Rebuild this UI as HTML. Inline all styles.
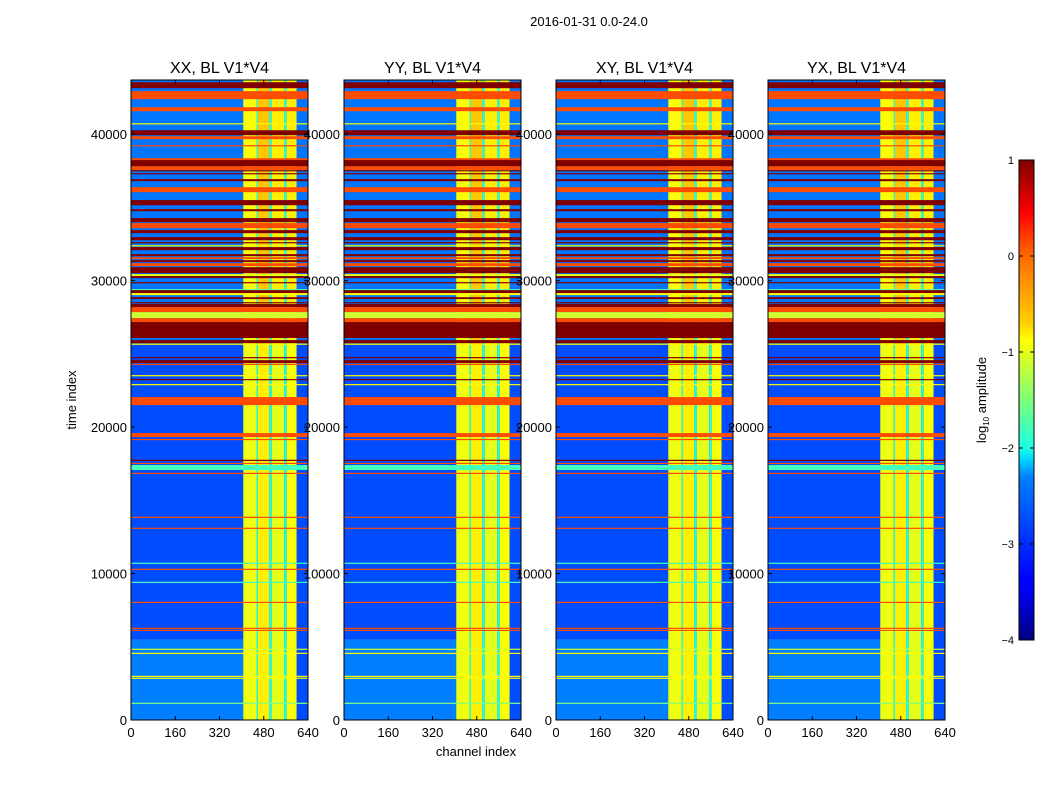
<!DOCTYPE html>
<html><head><meta charset="utf-8">
<style>
html,body{margin:0;padding:0;background:#fff;}
svg{display:block;font-family:"Liberation Sans",sans-serif;}
</style></head>
<body>
<svg id="chart" width="1050" height="800" viewBox="0 0 1050 800" xmlns="http://www.w3.org/2000/svg">
<defs>
<linearGradient id="jetGrad" x1="0" y1="1" x2="0" y2="0">
<stop offset="0" stop-color="#00007f"/><stop offset="0.11" stop-color="#0000ff"/><stop offset="0.125" stop-color="#0000ff"/>
<stop offset="0.34" stop-color="#0080ff"/><stop offset="0.375" stop-color="#00d4ff"/><stop offset="0.4" stop-color="#1affe6"/>
<stop offset="0.5" stop-color="#7dff7a"/><stop offset="0.625" stop-color="#ffff00"/><stop offset="0.66" stop-color="#ffd000"/>
<stop offset="0.8" stop-color="#ff6a00"/><stop offset="0.89" stop-color="#ff0000"/><stop offset="1" stop-color="#800000"/>
</linearGradient>
</defs>
<text x="589" y="26" font-size="13" text-anchor="middle">2016-01-31 0.0-24.0</text>
<text transform="translate(76,400) rotate(-90)" font-size="13" text-anchor="middle">time index</text>
<text x="476" y="756" font-size="13" text-anchor="middle">channel index</text>
<g id="panels"></g>
<g id="colorbar">
<rect x="1019" y="160" width="15" height="480" fill="url(#jetGrad)" stroke="#000" stroke-width="1"/>
<text transform="translate(986,400) rotate(-90)" font-size="13" text-anchor="middle">log<tspan font-size="8" dy="3">10</tspan><tspan dy="-3"> amplitude</tspan></text>
</g>
</svg>
<script>
// ---- data ----
const panelTitles = ["XX, BL V1*V4", "YY, BL V1*V4", "XY, BL V1*V4", "YX, BL V1*V4"];
const xTicks = [0, 160, 320, 480, 640];
const yTicks = [0, 10000, 20000, 30000, 40000];
const cbTicks = [1, 0, -1, -2, -3, -4];
const cbTickLabels = ["1", "0", "\u22121", "\u22122", "\u22123", "\u22124"];
// background segments: [t0, t1, log10 amplitude]
const bgSegments = [[0, 5500, -2.75], [5500, 25670, -3.0], [25670, 43700, -2.8]];
// column bands (lower region): [c0, c1, value]
const bandsLower = [[406, 454, -0.95], [454, 459, -2.0], [459, 500, -0.8], [500, 509, -2.0], [509, 554, -1.0], [554, 563, -2.0], [563, 599, -0.9], [599, 640, -3.0]];
// column bands (upper region)
const bandsUpper = [[406, 454, -0.9], [454, 459, -1.9], [459, 500, -0.6], [500, 509, -1.9], [509, 554, -0.8], [554, 563, -1.9], [563, 599, -0.8], [599, 640, -2.8]];
const bandSplit = 25670;
// full-width horizontal stripes: [t0, t1, value]
const stripes = [[43140,43550,1],[42390,42940,0],[41570,41840,0],[40680,40750,-0.85],[39930,40270,1],[39660,39860,0],[39200,39250,0],[38160,38360,0],[37810,38230,1],[37560,37810,0],[37480,37540,1],[37270,37340,1],[36790,36930,1],[36040,36380,0],[35150,35500,1],[34740,34880,1],[33990,34270,1],[33580,33930,0],[33240,33450,1],[32760,32970,1],[32560,32630,1],[32390,32420,-0.85],[32080,32290,1],[31670,31810,1],[31470,31600,0],[31260,31400,1],[30990,31190,0],[30510,30920,1],[30310,30450,-1.0],[30170,30310,1],[29830,29900,1],[29350,29420,-1.7],[29150,29350,1],[29010,29150,-0.85],[28740,28870,1],[28460,28530,1],[28190,28400,1],[27850,28190,0],[27440,27850,-1.1],[27170,27440,0],[26080,27170,1],[25730,25940,1],[25650,25700,-0.85],[24710,24780,1],[24370,24570,1],[24280,24320,0],[23520,23550,-0.85],[23250,23280,1],[22910,22940,-0.85],[21500,22050,0],[19320,19590,0],[19150,19190,0],[17730,17770,1],[17520,17560,0],[17070,17410,-1.8],[16840,16880,0],[13840,13880,0],[13090,13130,0],[10700,10740,-1.8],[10290,10330,0],[9400,9440,-1.8],[8030,8070,0],[6260,6300,0],[6120,6160,0],[4830,4870,-1.1],[4550,4590,-0.85],[2980,3020,-0.85],[2850,2890,-0.85],[1140,1180,-1.5]];

// ---- layout ----
const panelX = [131, 344, 556, 768];
const PW = 177, PT = 80, PB = 720, TMAX = 43700, CMAX = 640;
const NS = "http://www.w3.org/2000/svg";
function jet(v) {
  const t = Math.max(0, Math.min(1, (v + 4) / 5));
  const c = x => Math.round(255 * Math.max(0, Math.min(1, x)));
  return `rgb(${c(1.5 - Math.abs(4 * t - 3))},${c(1.5 - Math.abs(4 * t - 2))},${c(1.5 - Math.abs(4 * t - 1))})`;
}
function mk(tag, attrs, parent) {
  const e = document.createElementNS(NS, tag);
  for (const k in attrs) e.setAttribute(k, attrs[k]);
  parent.appendChild(e); return e;
}
const panels = document.getElementById("panels");
panelX.forEach((x0, pi) => {
  const sx = c => x0 + c / CMAX * PW;
  const sy = t => PB - t / TMAX * (PB - PT);
  const g = mk("g", {}, panels);
  
  
  bgSegments.forEach(s => {
    const r = mk("rect", { x: sx(0), y: sy(s[1]), width: PW, height: sy(s[0]) - sy(s[1]), fill: jet(s[2]) }, g);
    
    
  });
  [[0, bandSplit, bandsLower], [bandSplit, TMAX, bandsUpper]].forEach(([t0, t1, bands]) => {
    bands.forEach(b => {
      const r = mk("rect", { x: sx(b[0]), y: sy(t1), width: sx(b[1]) - sx(b[0]), height: sy(t0) - sy(t1), fill: jet(b[2]) }, g);
      
      
    });
  });
  stripes.forEach(s => {
    const h = Math.max(1.2, sy(s[0]) - sy(s[1]));
    const r = mk("rect", { x: sx(0), y: sy(s[1]), width: PW, height: h, fill: jet(s[2]) }, g);
    
    
  });
  const fr = mk("rect", { x: x0, y: PT, width: PW, height: PB - PT, fill: "none", stroke: "#000", "stroke-width": 1 }, g);
  
  
  const tt = mk("text", { x: x0 + PW / 2, y: 73, "font-size": 16, "text-anchor": "middle" }, g);
  tt.textContent = panelTitles[pi];
  
  
  xTicks.forEach(v => {
    mk("line", { x1: sx(v), x2: sx(v), y1: PB, y2: PB - 4, stroke: "#000" }, g);
    mk("line", { x1: sx(v), x2: sx(v), y1: PT, y2: PT + 4, stroke: "#000" }, g);
    const l = mk("text", { x: sx(v), y: 737, "font-size": 13, "text-anchor": "middle" }, g);
    l.textContent = v;
    
    
  });
  yTicks.forEach(v => {
    mk("line", { x1: x0, x2: x0 + 4, y1: sy(v), y2: sy(v), stroke: "#000" }, g);
    mk("line", { x1: x0 + PW, x2: x0 + PW - 4, y1: sy(v), y2: sy(v), stroke: "#000" }, g);
    const l = mk("text", { x: x0 - 4, y: sy(v) + 5, "font-size": 13, "text-anchor": "end" }, g);
    l.textContent = v;
    
    
  });
});
const cb = document.getElementById("colorbar");
cbTicks.forEach((v, i) => {
  const y = 640 - (v + 4) / 5 * 480;
  mk("line", { x1: 1019, x2: 1023, y1: y, y2: y, stroke: "#000" }, cb);
  mk("line", { x1: 1030, x2: 1034, y1: y, y2: y, stroke: "#000" }, cb);
  const l = mk("text", { x: 1014, y: y + 4, "font-size": 11, "text-anchor": "end" }, cb);
  l.textContent = cbTickLabels[i];
  
  
});
</script>
</body></html>
